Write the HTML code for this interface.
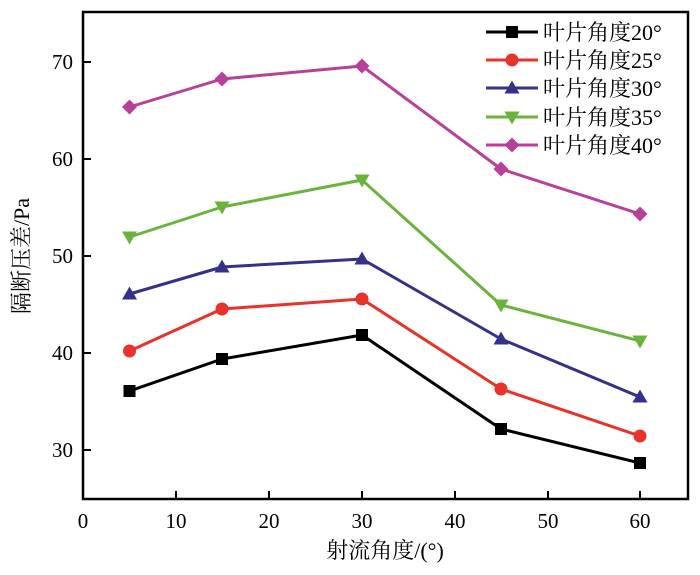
<!DOCTYPE html>
<html><head><style>body{margin:0;background:#fff}svg text{font-family:"Liberation Serif","Noto Serif CJK SC",serif;fill:#000}</style></head><body>
<svg width="700" height="570" viewBox="0 0 700 570" xmlns="http://www.w3.org/2000/svg">
<defs>
<g id="sq"><rect x="-6" y="-6" width="12" height="12"/></g>
<g id="ci"><circle r="6.5"/></g>
<g id="tu"><polygon points="0,-7.5 7.5,5.5 -7.5,5.5"/></g>
<g id="td"><polygon points="0,7.5 7.5,-5.5 -7.5,-5.5"/></g>
<g id="di"><polygon points="0,-7.5 7.5,0 0,7.5 -7.5,0"/></g>
</defs>
<rect x="83" y="12" width="605" height="487" fill="none" stroke="#000" stroke-width="2.5"/>
<g stroke="#000" stroke-width="2">
<line x1="176" y1="499" x2="176" y2="491"/><line x1="269" y1="499" x2="269" y2="491"/><line x1="362" y1="499" x2="362" y2="491"/><line x1="455" y1="499" x2="455" y2="491"/><line x1="548" y1="499" x2="548" y2="491"/><line x1="640" y1="499" x2="640" y2="491"/>
<line x1="83" y1="450" x2="91" y2="450"/><line x1="83" y1="353" x2="91" y2="353"/><line x1="83" y1="256" x2="91" y2="256"/><line x1="83" y1="159" x2="91" y2="159"/><line x1="83" y1="62" x2="91" y2="62"/>
</g>
<g font-size="21" text-anchor="middle">
<text x="83" y="528">0</text><text x="176" y="528">10</text><text x="269" y="528">20</text><text x="362" y="528">30</text><text x="455" y="528">40</text><text x="548" y="528">50</text><text x="640" y="528">60</text>
</g>
<g font-size="21" text-anchor="end">
<text x="73" y="457">30</text><text x="73" y="360">40</text><text x="73" y="263">50</text><text x="73" y="166">60</text><text x="73" y="69">70</text>
</g>
<text x="385" y="558" font-size="22" text-anchor="middle">射流角度/(°)</text>
<text transform="translate(29,256) rotate(-90)" font-size="22" text-anchor="middle">隔断压差/Pa</text>
<g stroke-width="3" fill="none" stroke-linejoin="round">
<polyline stroke="#000" points="129.5,391 222,359 362,335 501,429 640,463"/>
<polyline stroke="#e8322a" points="129.5,351 222,309 362,299 501,389 640,436"/>
<polyline stroke="#33318a" points="129.5,294 222,267 362,259 501,339 640,397"/>
<polyline stroke="#6ab43e" points="129.5,237 222,207 362,180 501,305 640,341"/>
<polyline stroke="#b8409a" points="129.5,107 222,79 362,66 501,169 640,214"/>
</g>
<g fill="#000"><use href="#sq" x="129.5" y="391"/><use href="#sq" x="222" y="359"/><use href="#sq" x="362" y="335"/><use href="#sq" x="501" y="429"/><use href="#sq" x="640" y="463"/></g>
<g fill="#e8322a"><use href="#ci" x="129.5" y="351"/><use href="#ci" x="222" y="309"/><use href="#ci" x="362" y="299"/><use href="#ci" x="501" y="389"/><use href="#ci" x="640" y="436"/></g>
<g fill="#33318a"><use href="#tu" x="129.5" y="294"/><use href="#tu" x="222" y="267"/><use href="#tu" x="362" y="259"/><use href="#tu" x="501" y="339"/><use href="#tu" x="640" y="397"/></g>
<g fill="#6ab43e"><use href="#td" x="129.5" y="237"/><use href="#td" x="222" y="207"/><use href="#td" x="362" y="180"/><use href="#td" x="501" y="305"/><use href="#td" x="640" y="341"/></g>
<g fill="#b8409a"><use href="#di" x="129.5" y="107"/><use href="#di" x="222" y="79"/><use href="#di" x="362" y="66"/><use href="#di" x="501" y="169"/><use href="#di" x="640" y="214"/></g>
<g stroke-width="3">
<line x1="486" y1="32" x2="538" y2="32" stroke="#000"/><use href="#sq" x="512" y="32" fill="#000"/>
<line x1="486" y1="60" x2="538" y2="60" stroke="#e8322a"/><use href="#ci" x="512" y="60" fill="#e8322a"/>
<line x1="486" y1="88" x2="538" y2="88" stroke="#33318a"/><use href="#tu" x="512" y="88" fill="#33318a"/>
<line x1="486" y1="117" x2="538" y2="117" stroke="#6ab43e"/><use href="#td" x="512" y="117" fill="#6ab43e"/>
<line x1="486" y1="145" x2="538" y2="145" stroke="#b8409a"/><use href="#di" x="512" y="145" fill="#b8409a"/>
</g>
<g font-size="22">
<text x="543" y="40">叶片角度20°</text><text x="543" y="68">叶片角度25°</text><text x="543" y="96">叶片角度30°</text><text x="543" y="125">叶片角度35°</text><text x="543" y="153">叶片角度40°</text>
</g>
</svg>
</body></html>
